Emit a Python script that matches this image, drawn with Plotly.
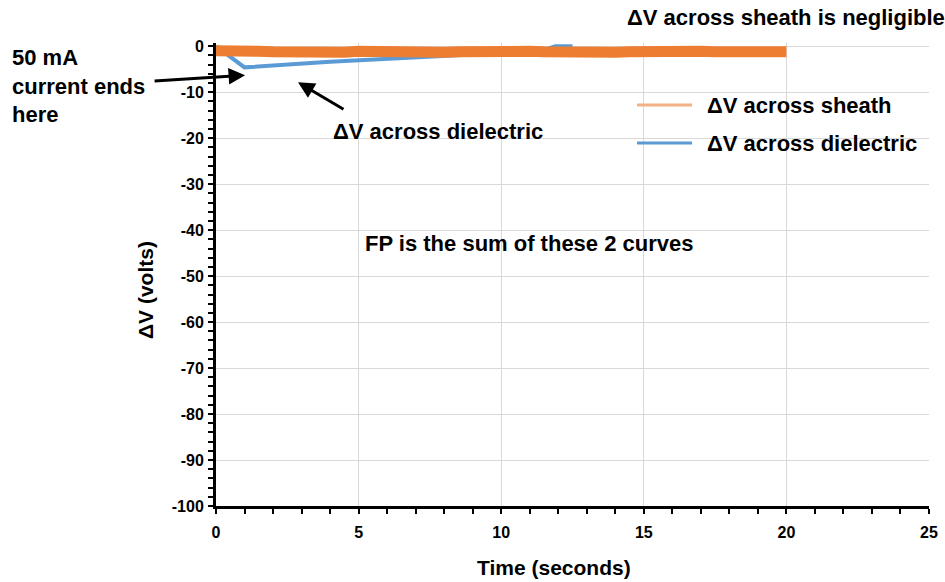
import plotly.graph_objects as go

# Data
sheath_t = [0, 0.5, 1, 1.5, 2, 2.5, 3, 3.5, 4, 4.5, 5, 5.5, 6, 6.5, 7, 7.5, 8, 8.5, 9, 9.5, 10,
            10.5, 11, 11.5, 12, 12.5, 13, 13.5, 14, 14.5, 15, 15.5, 16, 16.5, 17, 17.5, 18, 18.5, 19, 19.5, 20]
sheath_v = [-1.0, -1.2, -1.3, -1.1, -1.2, -1.3, -1.1, -1.2, -1.2, -1.3, -1.1, -1.2, -1.3, -1.2, -1.1, -1.2,
            -1.3, -1.2, -1.1, -1.2, -1.3, -1.2, -1.1, -1.2, -1.3, -1.2, -1.1, -1.2, -1.3, -1.2, -1.1, -1.2,
            -1.3, -1.2, -1.1, -1.2, -1.3, -1.2, -1.1, -1.2, -1.2]
diel_t = [0, 1, 4, 7.5, 10, 11.5, 11.9, 12.5]
diel_v = [0, -4.6, -3.4, -2.3, -1.5, -0.8, 0.0, 0.0]

x_ticks = [0, 5, 10, 15, 20, 25]
y_ticks = [0, -10, -20, -30, -40, -50, -60, -70, -80, -90, -100]

series_names = ["ΔV across sheath", "ΔV across dielectric"]

BLUE = "#5B9BD5"
ORANGE = "#ED7D31"
ORANGE_LIGHT = "#F4B183"
FONT = "Liberation Sans, Arial, sans-serif"

fig = go.Figure()
fig.add_trace(go.Scatter(x=diel_t, y=diel_v, mode="lines", line=dict(color=BLUE, width=4),
                         name=series_names[1], showlegend=False, hoverinfo="skip"))
fig.add_trace(go.Scatter(x=sheath_t, y=sheath_v, mode="lines", line=dict(color=ORANGE, width=11),
                         name=series_names[0], showlegend=False, hoverinfo="skip"))

axis_common = dict(
    showline=True, linecolor="black", linewidth=3,
    showgrid=True, gridcolor="#D9D9D9", gridwidth=1,
    zeroline=False, ticks="outside", tickcolor="black", tickwidth=2, ticklen=5,
    tickfont=dict(family=FONT, size=16, color="black", weight="bold"),
)

fig.update_xaxes(range=[0, 25], tickvals=x_ticks, ticktext=[str(v) for v in x_ticks],
                 ticklabelstandoff=5,
                 minor=dict(dtick=1, ticks="outside", ticklen=5, tickwidth=2, tickcolor="black", showgrid=False),
                 **axis_common)
fig.update_yaxes(range=[-100, 0.7], tickvals=y_ticks, ticktext=[str(v) for v in y_ticks],
                 ticklabelstandoff=1,
                 minor=dict(dtick=2, ticks="outside", ticklen=5, tickwidth=2, tickcolor="black", showgrid=False),
                 **axis_common)

tf = dict(family=FONT, size=21, color="black", weight="bold")
tf22 = dict(tf, size=22)

def pa(text, x, y, xanchor="center", **kw):
    return dict(text=text, x=x, y=y, xref="paper", yref="paper", xanchor=xanchor, yanchor="middle",
                showarrow=False, **kw)

ann = [
    pa("Time (seconds)", 0.474, -0.132, font=tf),
    pa("ΔV (volts)", -0.0996, 0.4665, textangle=-90, font=tf),
    pa("ΔV across sheath is negligible", 0.574, 1.054, xanchor="left", font=tf22),
    pa("50 mA<br>current ends<br>here", -0.289, 0.907, xanchor="left", align="left", font=tf22),
    pa("ΔV across dielectric", 0.311, 0.808, font=tf22),
    pa("FP is the sum of these 2 curves", 0.439, 0.566, font=tf22),
    # legend labels
    pa(series_names[0], 0.6858, 0.866, xanchor="left", font=tf22),
    pa(series_names[1], 0.6858, 0.784, xanchor="left", font=tf22),
]
arrow = dict(showarrow=True, arrowhead=2, arrowsize=1.1, arrowwidth=3, arrowcolor="black",
             text="", xref="x", yref="y", standoff=0, startstandoff=0)
ann += [
    dict(arrow, x=12.31, y=2.83, ax=45, ay=-21),
    dict(arrow, x=1.02, y=-6.3, ax=-92, ay=6),
    dict(arrow, x=2.875, y=-7.83, ax=47, ay=28),
]

shapes = [
    dict(type="line", xref="paper", yref="paper", x0=0.5905, x1=0.6676, y0=0.866, y1=0.866,
         line=dict(color=ORANGE_LIGHT, width=3)),
    dict(type="line", xref="paper", yref="paper", x0=0.5905, x1=0.6676, y0=0.784, y1=0.784,
         line=dict(color=BLUE, width=3)),
]

fig.update_layout(
    width=945, height=582,
    margin=dict(l=216, r=16, t=43, b=76, autoexpand=False),
    paper_bgcolor="white", plot_bgcolor="white",
    font=dict(family=FONT, color="black"),
    annotations=ann, shapes=shapes, showlegend=False,
)

fig.write_html("out.html")
